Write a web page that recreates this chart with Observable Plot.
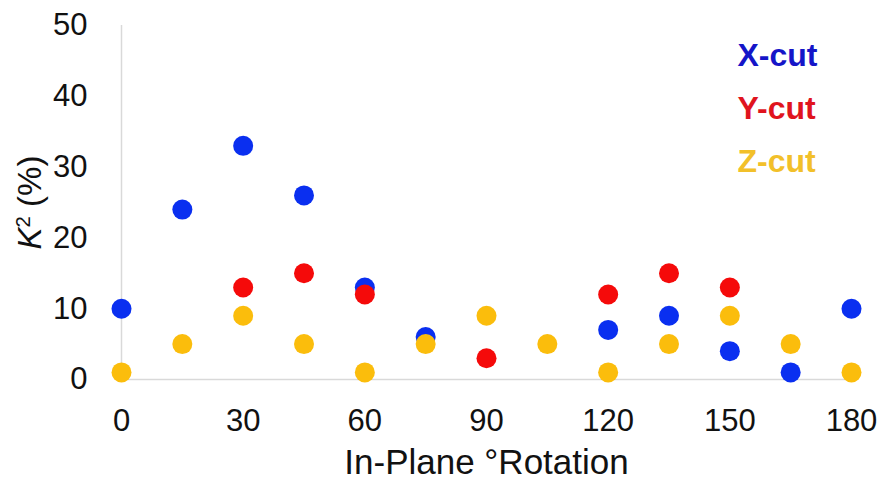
<!DOCTYPE html>
<html>
<head>
<meta charset="utf-8">
<script src="https://cdn.jsdelivr.net/npm/d3@7"></script>
<script src="https://cdn.jsdelivr.net/npm/@observablehq/plot@0.6"></script>
<style>
  html, body { margin: 0; padding: 0; background: #fff; }
  #chart svg { display: block; }
</style>
</head>
<body>
<div id="chart"></div>
<script>
// In-plane rotation angles (degrees)
const angles = [0, 15, 30, 45, 60, 75, 90, 105, 120, 135, 150, 165, 180];

// Coupling coefficient K² (%) per cut; null where no value was measured
const seriesNames = ["X-cut", "Y-cut", "Z-cut"];
const xCut = [10, 24, 33, 26, 13, 6, null, null, 7, 9, 4, 1, 10];
const yCut = [null, null, 13, 15, 12, null, 3, null, 12, 15, 13, null, null];
const zCut = [1, 5, 9, 5, 1, 5, 9, 5, 1, 5, 9, 5, 1];

const xTicks = [0, 30, 60, 90, 120, 150, 180];
const yTicks = [0, 10, 20, 30, 40, 50];

const dotColors = ["#0a2ff0", "#f50a0a", "#fbbd0c"];
const legendColors = ["#1515c8", "#e0141e", "#f2c02a"];

// Long-format rows; X drawn first, Z last so Z sits on top
const rows = [];
[xCut, yCut, zCut].forEach((vals, i) => {
  vals.forEach((v, j) => {
    if (v != null) rows.push({ angle: angles[j], k2: v, series: seriesNames[i] });
  });
});

const font = "'Liberation Sans', Arial, sans-serif";

const chart = Plot.plot({
  width: 882,
  height: 481,
  marginLeft: 121,
  marginRight: 31,
  marginTop: 25,
  marginBottom: 102,
  style: { fontFamily: font, background: "#fff", color: "#111" },
  x: { domain: [0, 180] },
  y: { domain: [0, 50] },
  color: { domain: seriesNames, range: dotColors },
  marks: [
    Plot.ruleX([0], { y1: 0, y2: 50, stroke: "#d9d9d9", strokeWidth: 1.5 }),
    Plot.ruleY([0], { stroke: "#d9d9d9", strokeWidth: 1.5 }),
    Plot.axisX({ ticks: xTicks, tickSize: 0, tickPadding: 29, fontSize: 31, label: null }),
    Plot.axisY({ ticks: yTicks, tickSize: 0, tickPadding: 34, fontSize: 31, label: null }),
    Plot.dot(rows, { x: "angle", y: "k2", fill: "series", r: 10, stroke: "none" }),
    // axis titles
    Plot.text(["In-Plane °Rotation"], {
      frameAnchor: "bottom", lineAnchor: "middle", textAnchor: "middle",
      dy: 83, fontSize: 35, fill: "#111"
    }),
    Plot.text(["K2 (%)"], {
      frameAnchor: "left", lineAnchor: "middle", textAnchor: "middle",
      dx: -91, rotate: -90, fontSize: 33, fill: "#111",
      className: "ylabel"
    }),
    // series legend
    ...seriesNames.map((name, i) =>
      Plot.text([name], {
        frameAnchor: "top-left", lineAnchor: "top", textAnchor: "start",
        dx: 616, dy: 18 + 53 * i,
        fontSize: 32, fontWeight: "bold", fill: legendColors[i]
      })
    )
  ]
});

// Italic K with superscript 2 in the y-axis title
d3.select(chart).selectAll("g.ylabel text").each(function () {
  const t = d3.select(this);
  t.text(null);
  t.append("tspan").attr("font-style", "italic").text("K");
  t.append("tspan").attr("font-size", "0.62em").attr("dy", "-0.55em").text("2");
  t.append("tspan").attr("dy", "0.34em").text(" (%)");
});

document.getElementById("chart").append(chart);
</script>
</body>
</html>
